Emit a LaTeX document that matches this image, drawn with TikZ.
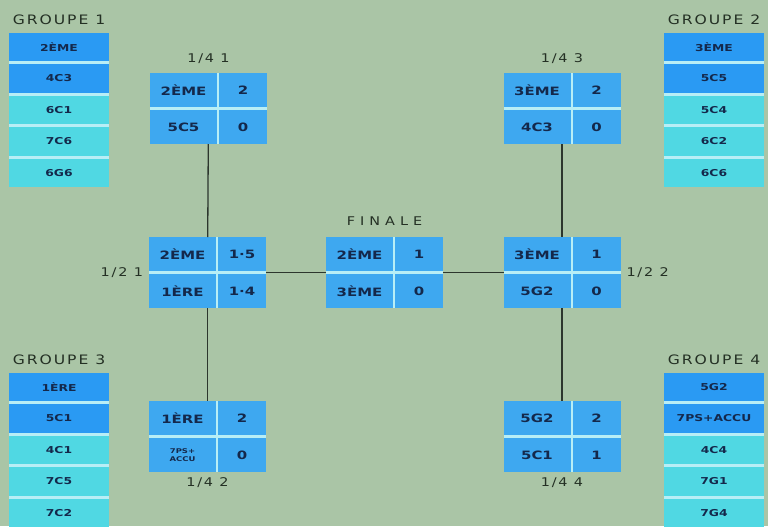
\documentclass[tikz,border=0pt]{standalone}
\usepackage{fontspec}
\newfontfamily\widefont[FakeStretch=1.3]{DejaVu Sans}
\newfontfamily\spacedfont[FakeStretch=1.2,LetterSpace=15]{DejaVu Sans}
\newfontfamily\finalefont[FakeStretch=1.2,LetterSpace=42]{DejaVu Sans}
\usetikzlibrary{positioning,fit,backgrounds}

\definecolor{bgsage}{HTML}{AAC5A6}
\definecolor{cellblue}{HTML}{3EA8F0}
\definecolor{groupblue}{HTML}{2A9AF3}
\definecolor{groupcyan}{HTML}{50D8E3}
\definecolor{gaplight}{HTML}{B8EEF6}
\definecolor{inknavy}{HTML}{14284B}
\definecolor{inkdark}{HTML}{243024}
\definecolor{inkline}{HTML}{2C362D}

\begin{document}
\begin{tikzpicture}[
  x=1pt, y=-1pt,
  node distance = 3pt and 2pt,
  every node/.style = {align=center, inner sep=0pt, outer sep=0pt},
  mcell/.style  = {fill=cellblue, text=inknavy, minimum height=34pt,
                   font=\widefont\bfseries\fontsize{11.5}{13}\selectfont},
  mname/.style  = {mcell, minimum width=67pt},
  mtiny/.style  = {mname, font=\widefont\bfseries\fontsize{6.5}{7.5}\selectfont},
  mscore/.style = {mcell, minimum width=48pt},
  gcell/.style  = {text=inknavy, minimum width=100pt, minimum height=28.5pt,
                   font=\widefont\bfseries\fontsize{9.5}{10}\selectfont},
  gtop/.style   = {gcell, fill=groupblue},
  grest/.style  = {gcell, fill=groupcyan},
  backing/.style= {fill=gaplight, inner sep=0pt},
  tag/.style    = {text=inkdark, font=\spacedfont\fontsize{12}{13}\selectfont},
  gtitle/.style = {text=inkdark, font=\spacedfont\fontsize{13}{14}\selectfont},
  link/.style   = {draw=inkline, line width=1.3pt},
]

% Background
\begin{scope}[on background layer]
  \fill[bgsage] (0,0) rectangle (768,526);
\end{scope}

% Group lists
\node[gtop]              (g1a) at (59,47) {2ÈME};
\node[gtop,  below=of g1a] (g1b) {4C3};
\node[grest, below=of g1b] (g1c) {6C1};
\node[grest, below=of g1c] (g1d) {7C6};
\node[grest, below=of g1d] (g1e) {6G6};

\node[gtop]              (g2a) at (714,47) {3ÈME};
\node[gtop,  below=of g2a] (g2b) {5C5};
\node[grest, below=of g2b] (g2c) {5C4};
\node[grest, below=of g2c] (g2d) {6C2};
\node[grest, below=of g2d] (g2e) {6C6};

\node[gtop]              (g3a) at (59,387) {1ÈRE};
\node[gtop,  below=of g3a] (g3b) {5C1};
\node[grest, below=of g3b] (g3c) {4C1};
\node[grest, below=of g3c] (g3d) {7C5};
\node[grest, below=of g3d] (g3e) {7C2};

\node[gtop]              (g4a) at (714,387) {5G2};
\node[gtop,  below=of g4a] (g4b) {7PS+ACCU};
\node[grest, below=of g4b] (g4c) {4C4};
\node[grest, below=of g4c] (g4d) {7G1};
\node[grest, below=of g4d] (g4e) {7G4};

% Quarter finals
\node[mname]               (q1a) at (183.5,90) {2ÈME};
\node[mscore, right=of q1a] (q1b) {2};
\node[mname,  below=of q1a] (q1c) {5C5};
\node[mscore, right=of q1c] (q1d) {0};

\node[mname]               (q2a) at (182.5,418) {1ÈRE};
\node[mscore, right=of q2a] (q2b) {2};
\node[mtiny,  below=of q2a] (q2c) {7PS+\\ACCU};
\node[mscore, right=of q2c] (q2d) {0};

\node[mname]               (q3a) at (537,90) {3ÈME};
\node[mscore, right=of q3a] (q3b) {2};
\node[mname,  below=of q3a] (q3c) {4C3};
\node[mscore, right=of q3c] (q3d) {0};

\node[mname]               (q4a) at (537,418) {5G2};
\node[mscore, right=of q4a] (q4b) {2};
\node[mname,  below=of q4a] (q4c) {5C1};
\node[mscore, right=of q4c] (q4d) {1};

% Semi finals and final
\node[mname]               (s1a) at (182.5,254) {2ÈME};
\node[mscore, right=of s1a] (s1b) {1·5};
\node[mname,  below=of s1a] (s1c) {1ÈRE};
\node[mscore, right=of s1c] (s1d) {1·4};

\node[mname]               (s2a) at (537,254) {3ÈME};
\node[mscore, right=of s2a] (s2b) {1};
\node[mname,  below=of s2a] (s2c) {5G2};
\node[mscore, right=of s2c] (s2d) {0};

\node[mname]               (fa) at (359.5,254) {2ÈME};
\node[mscore, right=of fa] (fb) {1};
\node[mname,  below=of fa] (fc) {3ÈME};
\node[mscore, right=of fc] (fd) {0};

% Light gaps behind the cells
\begin{scope}[on background layer]
  \node[backing, fit=(g1a)(g1e)] (g1) {};
  \node[backing, fit=(g2a)(g2e)] (g2) {};
  \node[backing, fit=(g3a)(g3e)] (g3) {};
  \node[backing, fit=(g4a)(g4e)] (g4) {};
  \node[backing, fit=(q1a)(q1d)] (q1) {};
  \node[backing, fit=(q2a)(q2d)] (q2) {};
  \node[backing, fit=(q3a)(q3d)] (q3) {};
  \node[backing, fit=(q4a)(q4d)] (q4) {};
  \node[backing, fit=(s1a)(s1d)] (s1) {};
  \node[backing, fit=(s2a)(s2d)] (s2) {};
  \node[backing, fit=(fa)(fd)]   (fin) {};
\end{scope}

% Titles
\node[gtitle, above=8pt of g1] (t1) {GROUPE 1};
\node[gtitle, above=8pt of g2] (t2) {GROUPE 2};
\node[gtitle, above=8pt of g3] (t3) {GROUPE 3};
\node[gtitle, above=8pt of g4] (t4) {GROUPE 4};

\node[tag, above=9pt of q1]  (lq1) {1/4 1};
\node[tag, below=6pt of q2]  (lq2) {1/4 2};
\node[tag, above=9pt of q3]  (lq3) {1/4 3};
\node[tag, below=6pt of q4]  (lq4) {1/4 4};
\node[tag, left=6pt of s1]   (ls1) {1/2 1};
\node[tag, right=6pt of s2]  (ls2) {1/2 2};
\node[tag, font=\finalefont\fontsize{12}{13}\selectfont,
      above=12pt of fin] (lfin) {FINALE};

% Bracket lines
\draw[link] (q1) -- (s1);
\draw[link] (s1) -- (q2);
\draw[link] (q3) -- (s2);
\draw[link] (s2) -- (q4);
\draw[link] (s1) -- (fin);
\draw[link] (fin) -- (s2);

\end{tikzpicture}
\end{document}
